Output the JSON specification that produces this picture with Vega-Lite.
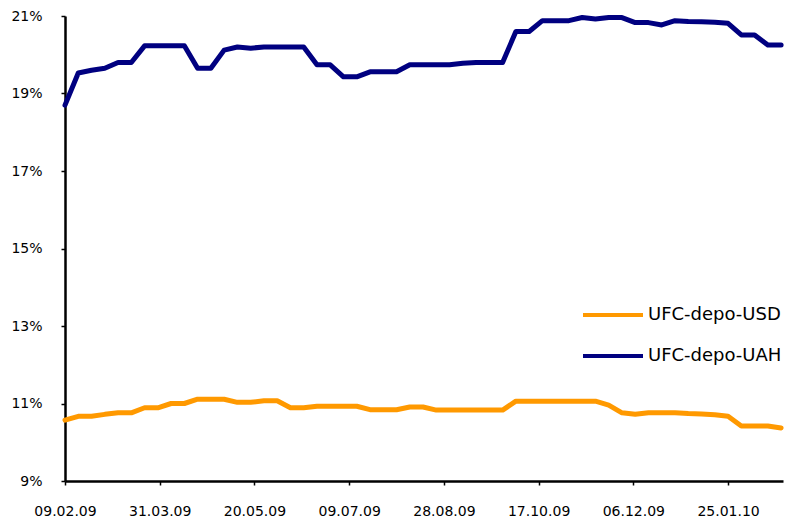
{
  "$schema": "https://vega.github.io/schema/vega-lite/v6.json",
  "width": 718,
  "height": 465,
  "autosize": {"type": "none"},
  "padding": {"left": 65, "top": 16, "right": 4, "bottom": 36},
  "background": "white",
  "config": {
    "view": {"stroke": null},
    "font": "DejaVu Sans",
    "axis": {"labelFont": "DejaVu Sans", "labelFontSize": 14, "labelColor": "black", "domainColor": "black", "tickColor": "black", "grid": false, "title": null}
  },
  "data": {"values": [
    {"date": "2009-02-09", "UFC-depo-USD": 10.57, "UFC-depo-UAH": 18.70},
    {"date": "2009-02-16", "UFC-depo-USD": 10.67, "UFC-depo-UAH": 19.53},
    {"date": "2009-02-23", "UFC-depo-USD": 10.67, "UFC-depo-UAH": 19.60},
    {"date": "2009-03-02", "UFC-depo-USD": 10.72, "UFC-depo-UAH": 19.65},
    {"date": "2009-03-09", "UFC-depo-USD": 10.76, "UFC-depo-UAH": 19.80},
    {"date": "2009-03-16", "UFC-depo-USD": 10.76, "UFC-depo-UAH": 19.80},
    {"date": "2009-03-23", "UFC-depo-USD": 10.89, "UFC-depo-UAH": 20.23},
    {"date": "2009-03-30", "UFC-depo-USD": 10.89, "UFC-depo-UAH": 20.23},
    {"date": "2009-04-06", "UFC-depo-USD": 11.00, "UFC-depo-UAH": 20.23},
    {"date": "2009-04-13", "UFC-depo-USD": 11.00, "UFC-depo-UAH": 20.23},
    {"date": "2009-04-20", "UFC-depo-USD": 11.11, "UFC-depo-UAH": 19.65},
    {"date": "2009-04-27", "UFC-depo-USD": 11.11, "UFC-depo-UAH": 19.65},
    {"date": "2009-05-04", "UFC-depo-USD": 11.11, "UFC-depo-UAH": 20.12},
    {"date": "2009-05-11", "UFC-depo-USD": 11.03, "UFC-depo-UAH": 20.20},
    {"date": "2009-05-18", "UFC-depo-USD": 11.03, "UFC-depo-UAH": 20.17},
    {"date": "2009-05-25", "UFC-depo-USD": 11.07, "UFC-depo-UAH": 20.20},
    {"date": "2009-06-01", "UFC-depo-USD": 11.07, "UFC-depo-UAH": 20.20},
    {"date": "2009-06-08", "UFC-depo-USD": 10.89, "UFC-depo-UAH": 20.20},
    {"date": "2009-06-15", "UFC-depo-USD": 10.89, "UFC-depo-UAH": 20.20},
    {"date": "2009-06-22", "UFC-depo-USD": 10.93, "UFC-depo-UAH": 19.74},
    {"date": "2009-06-29", "UFC-depo-USD": 10.93, "UFC-depo-UAH": 19.74},
    {"date": "2009-07-06", "UFC-depo-USD": 10.93, "UFC-depo-UAH": 19.43},
    {"date": "2009-07-13", "UFC-depo-USD": 10.93, "UFC-depo-UAH": 19.43},
    {"date": "2009-07-20", "UFC-depo-USD": 10.84, "UFC-depo-UAH": 19.56},
    {"date": "2009-07-27", "UFC-depo-USD": 10.84, "UFC-depo-UAH": 19.56},
    {"date": "2009-08-03", "UFC-depo-USD": 10.84, "UFC-depo-UAH": 19.56},
    {"date": "2009-08-10", "UFC-depo-USD": 10.91, "UFC-depo-UAH": 19.74},
    {"date": "2009-08-17", "UFC-depo-USD": 10.91, "UFC-depo-UAH": 19.74},
    {"date": "2009-08-24", "UFC-depo-USD": 10.83, "UFC-depo-UAH": 19.74},
    {"date": "2009-08-31", "UFC-depo-USD": 10.83, "UFC-depo-UAH": 19.74},
    {"date": "2009-09-07", "UFC-depo-USD": 10.83, "UFC-depo-UAH": 19.78},
    {"date": "2009-09-14", "UFC-depo-USD": 10.83, "UFC-depo-UAH": 19.80},
    {"date": "2009-09-21", "UFC-depo-USD": 10.83, "UFC-depo-UAH": 19.80},
    {"date": "2009-09-28", "UFC-depo-USD": 10.83, "UFC-depo-UAH": 19.80},
    {"date": "2009-10-05", "UFC-depo-USD": 11.06, "UFC-depo-UAH": 20.60},
    {"date": "2009-10-12", "UFC-depo-USD": 11.06, "UFC-depo-UAH": 20.60},
    {"date": "2009-10-19", "UFC-depo-USD": 11.06, "UFC-depo-UAH": 20.88},
    {"date": "2009-10-26", "UFC-depo-USD": 11.06, "UFC-depo-UAH": 20.88},
    {"date": "2009-11-02", "UFC-depo-USD": 11.06, "UFC-depo-UAH": 20.88},
    {"date": "2009-11-09", "UFC-depo-USD": 11.06, "UFC-depo-UAH": 20.96},
    {"date": "2009-11-16", "UFC-depo-USD": 11.06, "UFC-depo-UAH": 20.92},
    {"date": "2009-11-23", "UFC-depo-USD": 10.96, "UFC-depo-UAH": 20.96},
    {"date": "2009-11-30", "UFC-depo-USD": 10.76, "UFC-depo-UAH": 20.96},
    {"date": "2009-12-07", "UFC-depo-USD": 10.72, "UFC-depo-UAH": 20.83},
    {"date": "2009-12-14", "UFC-depo-USD": 10.76, "UFC-depo-UAH": 20.83},
    {"date": "2009-12-21", "UFC-depo-USD": 10.76, "UFC-depo-UAH": 20.77},
    {"date": "2009-12-28", "UFC-depo-USD": 10.76, "UFC-depo-UAH": 20.88},
    {"date": "2010-01-04", "UFC-depo-USD": 10.74, "UFC-depo-UAH": 20.86},
    {"date": "2010-01-11", "UFC-depo-USD": 10.73, "UFC-depo-UAH": 20.85},
    {"date": "2010-01-18", "UFC-depo-USD": 10.71, "UFC-depo-UAH": 20.84},
    {"date": "2010-01-25", "UFC-depo-USD": 10.67, "UFC-depo-UAH": 20.81},
    {"date": "2010-02-01", "UFC-depo-USD": 10.42, "UFC-depo-UAH": 20.51},
    {"date": "2010-02-08", "UFC-depo-USD": 10.42, "UFC-depo-UAH": 20.51},
    {"date": "2010-02-15", "UFC-depo-USD": 10.42, "UFC-depo-UAH": 20.25},
    {"date": "2010-02-22", "UFC-depo-USD": 10.37, "UFC-depo-UAH": 20.25}
  ]},
  "transform": [
    {"fold": ["UFC-depo-USD", "UFC-depo-UAH"], "as": ["series", "value"]}
  ],
  "mark": {"type": "line", "strokeWidth": 5, "strokeJoin": "round", "strokeCap": "round"},
  "encoding": {
    "x": {
      "field": "date", "type": "temporal",
      "scale": {"type": "utc", "domain": [{"year": 2009, "month": 2, "date": 9, "utc": true}, {"year": 2010, "month": 2, "date": 23, "utc": true}]},
      "axis": {
        "values": [
          {"year": 2009, "month": 2, "date": 9, "utc": true},
          {"year": 2009, "month": 3, "date": 31, "utc": true},
          {"year": 2009, "month": 5, "date": 20, "utc": true},
          {"year": 2009, "month": 7, "date": 9, "utc": true},
          {"year": 2009, "month": 8, "date": 28, "utc": true},
          {"year": 2009, "month": 10, "date": 17, "utc": true},
          {"year": 2009, "month": 12, "date": 6, "utc": true},
          {"year": 2010, "month": 1, "date": 25, "utc": true}
        ],
        "format": "%d.%m.%y",
        "domainWidth": 2.5, "tickSize": 4, "tickWidth": 1.5, "labelPadding": 19, "labelFlush": false, "labelOverlap": false
      }
    },
    "y": {
      "field": "value", "type": "quantitative",
      "scale": {"domain": [9, 21], "zero": false, "nice": false},
      "axis": {"values": [9, 11, 13, 15, 17, 19, 21], "labelExpr": "datum.value + '%'", "domainWidth": 2.5, "tickSize": 4, "tickWidth": 1.5, "labelPadding": 19}
    },
    "color": {
      "field": "series", "type": "nominal",
      "scale": {"domain": ["UFC-depo-USD", "UFC-depo-UAH"], "range": ["#FF9900", "#000080"]},
      "legend": {
        "title": null, "orient": "none", "legendX": 516, "legendY": 267,
        "symbolType": "stroke", "symbolSize": 3600, "symbolStrokeWidth": 4,
        "labelFont": "DejaVu Sans", "labelFontSize": 18, "labelColor": "black", "labelOffset": 3, "rowPadding": -7, "labelLimit": 300
      }
    }
  }
}
